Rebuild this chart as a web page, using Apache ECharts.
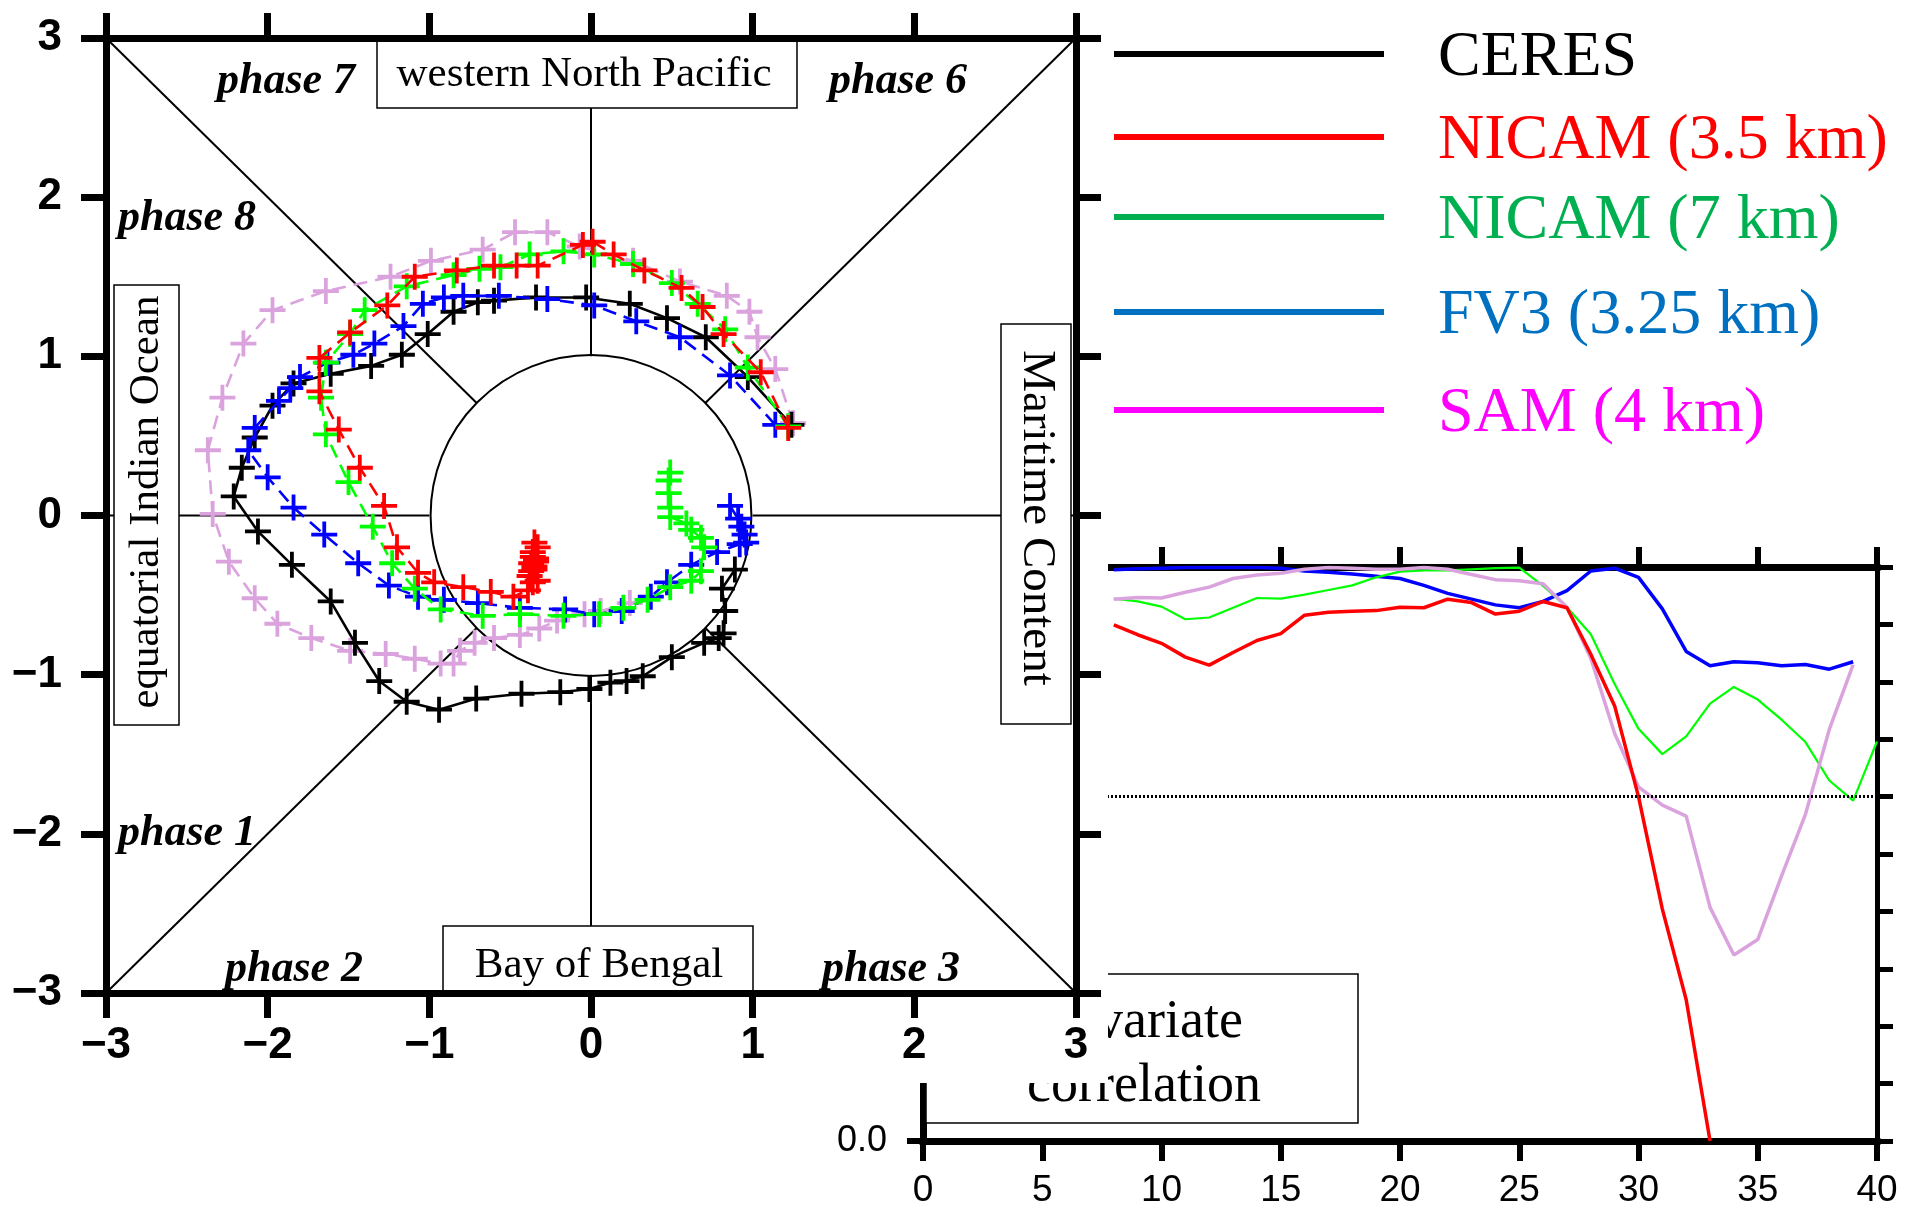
<!DOCTYPE html>
<html>
<head>
<meta charset="utf-8">
<title>MJO phase diagram and bivariate correlation</title>
<script src="https://cdn.jsdelivr.net/npm/echarts@6/dist/echarts.min.js"></script>
<style>
html, body { margin: 0; padding: 0; background: #ffffff; }
#chart { width: 1905px; height: 1211px; }
</style>
</head>
<body>
<div id="chart"></div>
<script>
// ---- RMM phase-space trajectories: [RMM1, RMM2], one point per forecast day ----
const ceres = [
  [1.24, 0.57], [0.97, 0.87], [0.71, 1.12], [0.47, 1.24], [0.24, 1.33], [-0.03, 1.37],
  [-0.34, 1.37], [-0.60, 1.35], [-0.70, 1.34], [-0.85, 1.28], [-1.01, 1.14], [-1.17, 1.01],
  [-1.36, 0.94], [-1.61, 0.89], [-1.84, 0.83], [-1.97, 0.69], [-2.08, 0.49], [-2.16, 0.30],
  [-2.21, 0.12], [-2.06, -0.10], [-1.85, -0.31], [-1.61, -0.54], [-1.46, -0.80], [-1.31, -1.04],
  [-1.14, -1.17], [-0.94, -1.22], [-0.71, -1.15], [-0.43, -1.12], [-0.19, -1.11], [-0.01, -1.09],
  [0.12, -1.05], [0.22, -1.04], [0.32, -1.01], [0.50, -0.89], [0.70, -0.80], [0.79, -0.77],
  [0.82, -0.74], [0.83, -0.60], [0.81, -0.46], [0.89, -0.34]
];
const nicam35 = [
  [1.22, 0.55], [1.05, 0.90], [0.82, 1.14], [0.69, 1.31], [0.56, 1.43], [0.33, 1.54],
  [0.14, 1.64], [0.01, 1.72], [-0.05, 1.70], [-0.33, 1.57], [-0.46, 1.57], [-0.60, 1.57],
  [-0.83, 1.54], [-1.09, 1.50], [-1.26, 1.32], [-1.49, 1.15], [-1.68, 0.99], [-1.68, 0.78],
  [-1.56, 0.54], [-1.43, 0.30], [-1.28, 0.06], [-1.20, -0.20], [-1.07, -0.36], [-0.97, -0.42],
  [-0.79, -0.45], [-0.62, -0.48], [-0.48, -0.51], [-0.39, -0.47], [-0.36, -0.42], [-0.38, -0.38],
  [-0.35, -0.34], [-0.37, -0.30], [-0.34, -0.27], [-0.36, -0.23], [-0.33, -0.20], [-0.35, -0.17],
  [-0.34, -0.29], [-0.37, -0.35], [-0.33, -0.41], [-0.36, -0.26], [-0.35, -0.32]
];
const nicam7 = [
  [1.22, 0.56], [0.97, 0.93], [0.83, 1.17], [0.66, 1.33], [0.50, 1.46], [0.26, 1.58],
  [0.02, 1.64], [-0.17, 1.66], [-0.38, 1.64], [-0.56, 1.56], [-0.69, 1.55], [-0.85, 1.51],
  [-1.14, 1.44], [-1.40, 1.29], [-1.49, 1.14], [-1.64, 0.96], [-1.67, 0.74], [-1.64, 0.51],
  [-1.50, 0.21], [-1.35, -0.07], [-1.23, -0.30], [-1.09, -0.46], [-0.93, -0.59], [-0.67, -0.63],
  [-0.44, -0.62], [-0.17, -0.63], [0.05, -0.62], [0.20, -0.58], [0.35, -0.53], [0.49, -0.45],
  [0.62, -0.41], [0.68, -0.35], [0.70, -0.20], [0.68, -0.14], [0.62, -0.09], [0.59, -0.05],
  [0.49, -0.01], [0.49, 0.05], [0.48, 0.14], [0.48, 0.22], [0.49, 0.27]
];
const fv3 = [
  [1.14, 0.57], [0.86, 0.88], [0.55, 1.12], [0.28, 1.22], [0.02, 1.32], [-0.27, 1.36],
  [-0.57, 1.38], [-0.79, 1.38], [-0.91, 1.37], [-1.04, 1.33], [-1.16, 1.19], [-1.34, 1.08],
  [-1.47, 1.01], [-1.63, 0.96], [-1.80, 0.87], [-1.86, 0.80], [-1.93, 0.72], [-2.08, 0.55],
  [-2.12, 0.41], [-2.00, 0.24], [-1.84, 0.05], [-1.65, -0.12], [-1.44, -0.30], [-1.25, -0.44],
  [-1.07, -0.51], [-0.91, -0.53], [-0.70, -0.55], [-0.44, -0.58], [-0.16, -0.59], [0.02, -0.62],
  [0.19, -0.60], [0.37, -0.51], [0.47, -0.42], [0.62, -0.31], [0.78, -0.23], [0.92, -0.18],
  [0.96, -0.17], [0.95, -0.12], [0.93, -0.07], [0.91, -0.02], [0.86, 0.06]
];
const sam = [
  [1.25, 0.58], [1.14, 0.92], [1.03, 1.12], [0.98, 1.28], [0.84, 1.38], [0.55, 1.47],
  [0.26, 1.60], [-0.07, 1.69], [-0.27, 1.78], [-0.47, 1.78], [-0.67, 1.67], [-0.99, 1.60],
  [-1.24, 1.50], [-1.64, 1.41], [-1.97, 1.29], [-2.15, 1.08], [-2.28, 0.74], [-2.37, 0.41],
  [-2.34, 0.01], [-2.24, -0.29], [-2.08, -0.52], [-1.94, -0.68], [-1.73, -0.77], [-1.49, -0.85],
  [-1.27, -0.87], [-1.09, -0.90], [-0.93, -0.93], [-0.85, -0.93], [-0.81, -0.85], [-0.72, -0.80],
  [-0.60, -0.77], [-0.44, -0.75], [-0.32, -0.71], [-0.21, -0.66], [-0.04, -0.62], [0.06, -0.60],
  [0.24, -0.55]
];

// ---- Bivariate correlation against lead time (days) ----
const leadDays = [8, 9, 10, 11, 12, 13, 14, 15, 16, 17, 18, 19, 20, 21, 22, 23, 24,
                  25, 26, 27, 28, 29, 30, 31, 32, 33, 34, 35, 36, 37, 38, 39, 40];
const corrNicam35 = [0.899, 0.882, 0.867, 0.843, 0.829, 0.851, 0.872, 0.884, 0.916, 0.921, 0.923,
                     0.924, 0.930, 0.929, 0.944, 0.938, 0.918, 0.923, 0.940, 0.929, 0.848, 0.758,
                     0.600, 0.404, 0.246, 0.000];
const corrNicam7 = [0.945, 0.940, 0.931, 0.909, 0.912, 0.929, 0.946, 0.945, 0.952, 0.960, 0.968,
                    0.982, 0.992, 0.994, 0.994, 0.996, 0.998, 0.999, 0.967, 0.930, 0.883, 0.796,
                    0.718, 0.674, 0.705, 0.762, 0.791, 0.769, 0.734, 0.695, 0.628, 0.593, 0.696];
const corrFv3 = [0.995, 0.997, 0.998, 0.999, 0.999, 0.999, 0.999, 0.998, 0.993, 0.991, 0.988,
                 0.984, 0.980, 0.968, 0.954, 0.944, 0.934, 0.929, 0.940, 0.959, 0.993, 0.998,
                 0.982, 0.927, 0.853, 0.828, 0.835, 0.833, 0.828, 0.830, 0.822, 0.835];
const corrSam = [0.944, 0.947, 0.946, 0.956, 0.965, 0.980, 0.986, 0.989, 0.996, 0.999, 0.998,
                 0.996, 0.996, 0.999, 0.996, 0.987, 0.978, 0.976, 0.971, 0.930, 0.841, 0.710,
                 0.617, 0.585, 0.566, 0.407, 0.324, 0.351, 0.462, 0.569, 0.717, 0.830];
const skillThreshold = 0.6;

// ---- Text ----
const seriesNames = ['CERES', 'NICAM (3.5 km)', 'NICAM (7 km)', 'FV3 (3.25 km)', 'SAM (4 km)'];
const phaseNames = ['phase 1', 'phase 2', 'phase 3', 'phase 6', 'phase 7', 'phase 8'];
const regionNames = ['western North Pacific', 'Bay of Bengal', 'equatorial Indian Ocean', 'Maritime Content'];
const panelTitle = ['Bivariate', 'correlation'];

const SERIF = '"Liberation Serif", "Times New Roman", serif';
const SANS = '"Liberation Sans", Arial, sans-serif';
const PLUS = 'path://M12,0 L12,24 M0,12 L24,12';

const lineColors = ['#000000', '#ff0000', '#00ff00', '#0000ff', '#dba3de'];
const legendColors = ['#000000', '#ff0000', '#00b050', '#0070c0', '#ff00ff'];

function signed(v) {
  return v < 0 ? '\u2212' + Math.abs(v) : String(v);
}

function pairs(values) {
  return values.map(function (v, i) { return [leadDays[i], v]; });
}

function phaseAxis(position, showLabels, margin) {
  return {
    type: 'value', gridIndex: 0, position: position, min: -3, max: 3, interval: 1,
    zlevel: 1, z: 10,
    axisLine: { show: true, onZero: false, lineStyle: { color: '#000', width: 7, cap: 'square' } },
    axisTick: { show: true, inside: false, length: 25, lineStyle: { color: '#000', width: 7 } },
    axisLabel: { show: showLabels, margin: margin, color: '#000', fontFamily: SANS, fontSize: 44, fontWeight: 'bold', formatter: signed },
    splitLine: { show: false }
  };
}

function trajectory(idx, pts, dashed, z) {
  const c = lineColors[idx];
  return {
    type: 'line', name: seriesNames[idx], data: pts, xAxisIndex: 0, yAxisIndex: 0,
    zlevel: 1, z: z, clip: false, silent: true,
    symbol: PLUS, symbolSize: 26, showSymbol: true, showAllSymbol: true,
    lineStyle: { color: c, width: 2.6, type: dashed ? [14, 8] : 'solid' },
    itemStyle: { color: c, borderColor: c, borderWidth: 3.8 },
    emphasis: { disabled: true }
  };
}

function corrLine(idx, values, width, extra) {
  const c = lineColors[idx];
  return Object.assign({
    type: 'line', name: seriesNames[idx], data: pairs(values), xAxisIndex: 2, yAxisIndex: 2,
    zlevel: 0, z: 2, showSymbol: false, silent: true,
    lineStyle: { color: c, width: width },
    emphasis: { disabled: true }
  }, extra || {});
}

function txt(text, x, y, font, color, rotation) {
  return {
    type: 'text', x: x, y: y, rotation: rotation || 0, zlevel: 1, z: 3, silent: true,
    style: {
      text: text, x: 0, y: 0, font: font, fill: color || '#000',
      align: 'center', verticalAlign: 'middle', textAlign: 'center', textVerticalAlign: 'middle'
    }
  };
}

function box(x, y, w, h) {
  return {
    type: 'rect', zlevel: 1, z: 2, silent: true,
    shape: { x: x, y: y, width: w, height: h },
    style: { fill: '#fff', stroke: '#000', lineWidth: 1.5 }
  };
}

const phaseFont = 'italic bold 44px ' + SERIF;
const regionFont = '43px ' + SERIF;

const graphics = [
  // white backing of the phase-diagram panel
  { type: 'rect', zlevel: 1, z: 0, silent: true, shape: { x: 0, y: 0, width: 1108, height: 1083 }, style: { fill: '#fff' } },
  // region boxes
  box(377, 39, 420, 69), txt(regionNames[0], 584, 75, regionFont),
  box(443, 926, 310, 70), txt(regionNames[1], 599, 966, regionFont),
  box(114, 285, 65, 440), txt(regionNames[2], 147, 502, regionFont, '#000', Math.PI / 2),
  box(1001, 324, 70, 400), txt(regionNames[3], 1036, 518, '47px ' + SERIF, '#000', -Math.PI / 2),
  // phase labels
  txt(phaseNames[4], 286, 82, phaseFont),
  txt(phaseNames[3], 898, 82, phaseFont),
  txt(phaseNames[5], 187, 219, phaseFont),
  txt(phaseNames[0], 187, 834, phaseFont),
  txt(phaseNames[1], 294, 970, phaseFont),
  txt(phaseNames[2], 891, 970, phaseFont),
  // title box of the correlation panel
  {
    type: 'group', zlevel: 0, z: 10, silent: true,
    children: [
      { type: 'rect', shape: { x: 926, y: 974, width: 432, height: 149 }, style: { fill: '#fff', stroke: '#000', lineWidth: 1.5 }, z: 10 },
      { type: 'text', z: 11, style: { text: panelTitle[0], x: 1144, y: 1023, font: '54px ' + SERIF, fill: '#000', align: 'center', verticalAlign: 'middle', textAlign: 'center', textVerticalAlign: 'middle' } },
      { type: 'text', z: 11, style: { text: panelTitle[1], x: 1144, y: 1087, font: '54px ' + SERIF, fill: '#000', align: 'center', verticalAlign: 'middle', textAlign: 'center', textVerticalAlign: 'middle' } }
    ]
  }
];

// legend: sample line and name for each data set
const legendRows = [54, 137, 217, 312, 410];
seriesNames.forEach(function (name, i) {
  graphics.push({
    type: 'line', zlevel: 1, z: 10, silent: true,
    shape: { x1: 1114, y1: legendRows[i], x2: 1384, y2: legendRows[i] },
    style: { stroke: legendColors[i], lineWidth: 6 }
  });
  graphics.push({
    type: 'text', zlevel: 1, z: 10, silent: true,
    style: {
      text: name, x: 1438, y: legendRows[i] + 4, font: '64px ' + SERIF, fill: legendColors[i],
      align: 'left', verticalAlign: 'middle', textAlign: 'left', textVerticalAlign: 'middle'
    }
  });
});

const chart = echarts.init(document.getElementById('chart'), null, { renderer: 'canvas' });

chart.setOption({
  animation: false,
  backgroundColor: '#ffffff',
  grid: [
    { left: 106, right: 829, top: 38, bottom: 218 },
    { left: 923, right: 28, top: 567, bottom: 70 }
  ],
  xAxis: [
    phaseAxis('bottom', true, 31),
    phaseAxis('top', false, 8),
    {
      type: 'value', gridIndex: 1, position: 'bottom', min: 0, max: 40, interval: 5, zlevel: 0, z: 1,
      axisLine: { show: true, onZero: false, lineStyle: { color: '#000', width: 7, cap: 'square' } },
      axisTick: { show: true, inside: false, length: 20, lineStyle: { color: '#000', width: 6 } },
      axisLabel: { margin: 31, color: '#000', fontFamily: SANS, fontSize: 37 },
      splitLine: { show: false }
    },
    {
      type: 'value', gridIndex: 1, position: 'top', min: 0, max: 40, interval: 5, zlevel: 0, z: 1,
      axisLine: { show: true, onZero: false, lineStyle: { color: '#000', width: 7, cap: 'square' } },
      axisTick: { show: true, inside: false, length: 20, lineStyle: { color: '#000', width: 6 } },
      axisLabel: { show: false },
      splitLine: { show: false }
    }
  ],
  yAxis: [
    phaseAxis('left', true, 44),
    phaseAxis('right', false, 8),
    {
      type: 'value', gridIndex: 1, position: 'left', min: 0, max: 1, interval: 0.2, zlevel: 0, z: 1,
      axisLine: { show: true, onZero: false, lineStyle: { color: '#000', width: 7, cap: 'square' } },
      axisTick: { show: true, inside: false, length: 16, lineStyle: { color: '#000', width: 6 } },
      axisLabel: { margin: 36, color: '#000', fontFamily: SANS, fontSize: 36, formatter: function (v) { return v.toFixed(1); } },
      splitLine: { show: false }
    },
    {
      type: 'value', gridIndex: 1, position: 'right', min: 0, max: 1, interval: 0.1, zlevel: 0, z: 1,
      axisLine: { show: true, onZero: false, lineStyle: { color: '#000', width: 5, cap: 'square' } },
      axisTick: { show: true, inside: false, length: 16, lineStyle: { color: '#000', width: 5 } },
      axisLabel: { show: false },
      splitLine: { show: false }
    }
  ],
  series: [
    // unit circle, diagonals and axes of the phase space
    {
      type: 'custom', xAxisIndex: 0, yAxisIndex: 0, zlevel: 1, z: 1, silent: true, clip: false,
      data: [[0, 0]],
      renderItem: function (params, api) {
        const d = Math.SQRT1_2;
        const segs = [
          [[-3, 3], [-d, d]], [[3, 3], [d, d]], [[-3, -3], [-d, -d]], [[3, -3], [d, -d]],
          [[-3, 0], [-1, 0]], [[1, 0], [3, 0]], [[0, 1], [0, 3]], [[0, -1], [0, -3]]
        ];
        const children = segs.map(function (s) {
          const a = api.coord(s[0]);
          const b = api.coord(s[1]);
          return { type: 'line', shape: { x1: a[0], y1: a[1], x2: b[0], y2: b[1] }, style: { stroke: '#000', lineWidth: 2 } };
        });
        const c = api.coord([0, 0]);
        const sz = api.size([1, 1]);
        children.push({ type: 'circle', shape: { cx: c[0], cy: c[1], r: (sz[0] + sz[1]) / 2 }, style: { fill: 'none', stroke: '#000', lineWidth: 2 } });
        return { type: 'group', children: children };
      }
    },
    trajectory(4, sam, true, 3),
    trajectory(0, ceres, false, 4),
    trajectory(3, fv3, true, 5),
    trajectory(2, nicam7, true, 6),
    trajectory(1, nicam35, true, 7),

    corrLine(3, corrFv3, 3.5, {
      markLine: {
        silent: true, symbol: 'none', label: { show: false },
        lineStyle: { color: '#000', width: 3, type: [2, 2] },
        data: [{ yAxis: skillThreshold }]
      }
    }),
    corrLine(2, corrNicam7, 2.2),
    corrLine(4, corrSam, 3.5),
    corrLine(1, corrNicam35, 3.5)
  ],
  graphic: { elements: graphics }
});
</script>
</body>
</html>
